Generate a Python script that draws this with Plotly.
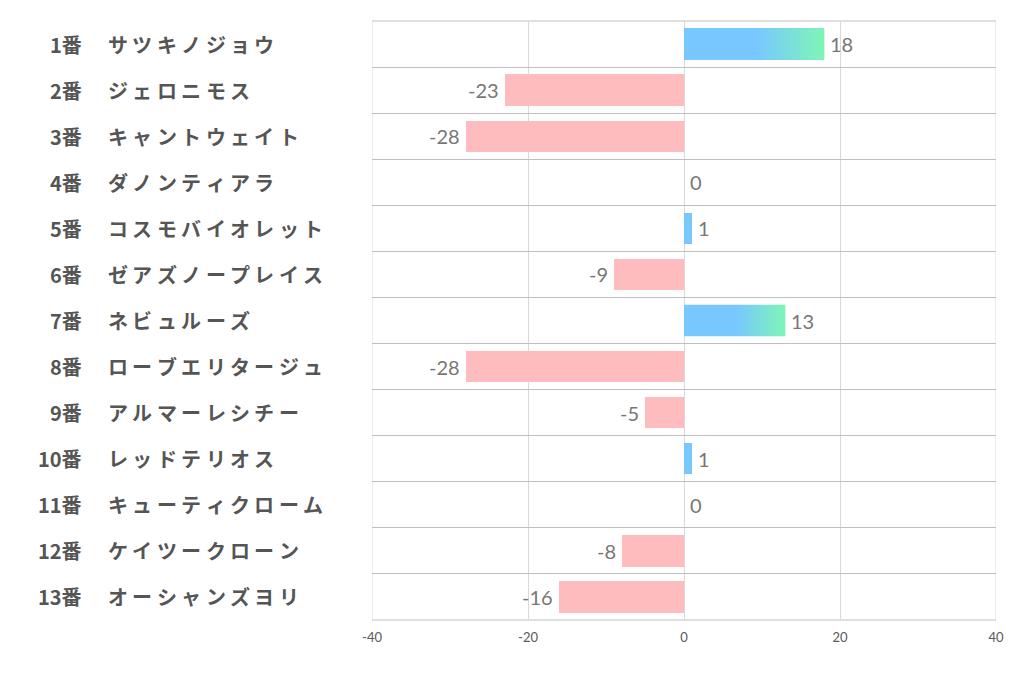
import plotly.graph_objects as go

nums = ["1番", "2番", "3番", "4番", "5番", "6番", "7番", "8番", "9番", "10番", "11番", "12番", "13番"]
names = ["サツキノジョウ", "ジェロニモス", "キャントウェイト", "ダノンティアラ", "コスモバイオレット",
         "ゼアズノープレイス", "ネビュルーズ", "ローブエリタージュ", "アルマーレシチー", "レッドテリオス",
         "キューティクローム", "ケイツークローン", "オーシャンズヨリ"]
values = [18, -23, -28, 0, 1, -9, 13, -28, -5, 1, 0, -8, -16]
x_ticks = [-40, -20, 0, 20, 40]

BLUE = "#78C8FF"
GREEN = "#7EF6B6"
PINK = "#FFBCBF"
BAR_W = 0.68

# page offset of 8px (body margin) taken into account
OFF = 8
W, H = 1022, 678
L = 372 - OFF
T = 21 - OFF
R = W - (996 - OFF)
B = H - (620 - OFF)
plot_w = W - L - R

fig = go.Figure()
idx = list(range(len(values)))
colors = [PINK if v < 0 else BLUE for v in values]
fig.add_trace(go.Bar(
    x=values, y=idx, orientation="h", marker=dict(color=colors, line=dict(width=0)),
    width=BAR_W, hoverinfo="skip", showlegend=False,
))

# gradient overlays for larger positive bars
for i, v in zip(idx, values):
    if v >= 5:
        h = BAR_W / 2
        fig.add_trace(go.Scatter(
            x=[0, v, v, 0, 0], y=[i - h, i - h, i + h, i + h, i - h],
            mode="lines", line=dict(width=0), fill="toself",
            fillgradient=dict(type="horizontal",
                              colorscale=[[0, BLUE], [0.52, BLUE], [1, GREEN]]),
            hoverinfo="skip", showlegend=False,
        ))

# value labels
for i, v in zip(idx, values):
    fig.add_annotation(
        x=v, y=i, xref="x", yref="y", text=str(v), showarrow=False,
        xanchor="right" if v < 0 else "left", xshift=-4 if v < 0 else 4,
        font=dict(family="Lato, Open Sans, sans-serif", size=20, color="#777777"),
    )

# category labels (names drawn with wide letter spacing, one glyph per annotation)
lab_font = dict(family="Noto Sans CJK JP", size=20, color="#555555", weight="bold")
NAME_X0 = 106
PITCH = 24.4
for i, (n, nm) in zip(idx, zip(nums, names)):
    fig.add_annotation(
        x=(84 - 372) / plot_w, y=i, xref="paper", yref="y", text=n, showarrow=False,
        xanchor="right", font=lab_font,
    )
    for k, ch in enumerate(nm):
        fig.add_annotation(
            x=(NAME_X0 + k * PITCH - 372) / plot_w, y=i, xref="paper", yref="y",
            text=ch, showarrow=False, xanchor="left", font=lab_font,
        )

n = len(values)
fig.update_layout(
    width=W, height=H, margin=dict(l=L, r=R, t=T, b=B),
    paper_bgcolor="white", plot_bgcolor="white",
    xaxis=dict(range=[x_ticks[0], x_ticks[-1]], tickvals=x_ticks,
               ticktext=[str(t) for t in x_ticks], showgrid=True,
               gridcolor="#D9D9D9", gridwidth=1, zeroline=False, showline=False,
               tickfont=dict(family="Lato, Open Sans, sans-serif", size=13, color="#595959"),
               ticks="", ticklabelstandoff=8, fixedrange=True),
    yaxis=dict(range=[n - 0.5, -0.5], tickvals=[k - 0.5 for k in range(n + 1)],
               showticklabels=False, showgrid=True, gridcolor="#BFBFBF", gridwidth=1,
               zeroline=False, showline=False, ticks=""),
    bargap=0,
)
fig.add_shape(type="line", xref="x", yref="paper", x0=x_ticks[0], x1=x_ticks[0], y0=0, y1=1,
              line=dict(color="#D9D9D9", width=1), layer="below")
fig.add_shape(type="line", xref="x", yref="paper", x0=x_ticks[-1], x1=x_ticks[-1], y0=0, y1=1,
              line=dict(color="#D9D9D9", width=1), layer="below")
fig.add_shape(type="line", xref="paper", yref="paper", x0=0, x1=1, y0=0, y1=0,
              line=dict(color="#BFBFBF", width=1), layer="below")
fig.add_shape(type="line", xref="paper", yref="paper", x0=0, x1=1, y0=1, y1=1,
              line=dict(color="#BFBFBF", width=1), layer="below")

fig.write_html("out.html")
